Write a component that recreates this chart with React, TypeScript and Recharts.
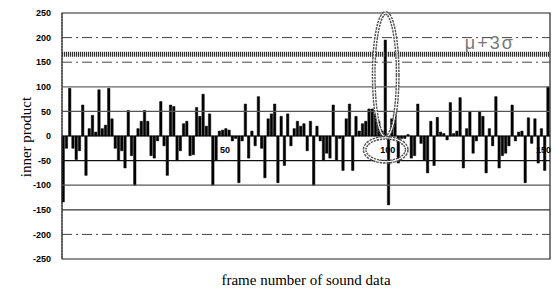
import React from 'react';
import { BarChart, Bar, XAxis, YAxis, ReferenceLine, ReferenceArea, ReferenceDot } from 'recharts';

const innerProducts: number[] = [
  -134, -25, 97, -25, -48, -30, 63, -80, 15, 42,
  8, 94, 15, 22, 97, 35, -25, -50, -30, -65,
  52, -40, -100, 15, 30, 52, 30, -40, -45, -10,
  70, -20, -80, 63, 60, -50, -30, 25, 30, -40,
  -38, 58, 40, 85, 20, 45, -100, -50, 10, 12,
  15, 12, -10, -5, -95, -10, 65, -45, 10, -20,
  80, -25, -85, 35, 45, 65, -95, 40, -60, 45,
  -20, 15, 30, 20, 25, -30, 30, -100, 20, -10,
  -50, -35, -45, 63, -50, -5, -70, 35, 65, -70,
  40, 10, 25, 30, 55, 55, 45, 30, 10, 195,
  -140, 35, 45, -55, -5, -5, 3, -45, -40, 65,
  -15, -50, -75, 30, -60, 38, 8, 5, -8, 68,
  5, 10, 78, -65, 15, 50, -35, -10, 50, 40,
  -75, 15, -20, 80, -65, -40, -35, -20, 63, -10,
  8, 10, -95, 37, -15, 35, -55, 15, -70, 100,
];

const yTicks = [-250, -200, -150, -100, -50, 0, 50, 100, 150, 200, 250];
const frameLabels = [50, 100, 150];
const threshold = 166;
const thresholdLabel = 'μ+3σ';
const thresholdLabelFrame = 132;
const dashedLevels = [200, 150, -200];
const solidLevels: { y: number; color: string }[] = [
  { y: 100, color: '#666' },
  { y: 50, color: '#555' },
  { y: -50, color: '#111' },
  { y: -100, color: '#555' },
  { y: -150, color: '#333' },
];
const peakFrame = 100;
const tallEllipseCenter = 124;
const smallEllipseCenter = -28;

const data = innerProducts.map((v, i) => ({ frame: i + 1, value: v }));

const chainEllipse = (rx: number, ry: number) => (props: any) => {
  const { cx, cy } = props;
  if (cx == null || cy == null) return <g />;
  return (
    <g>
      <ellipse cx={cx} cy={cy} rx={rx} ry={ry} fill="none" stroke="#555" strokeWidth={4} strokeDasharray="2.4 0.9" />
      <ellipse cx={cx} cy={cy} rx={rx} ry={ry} fill="none" stroke="#fff" strokeWidth={1.1} />
    </g>
  );
};

const FrameLabel = (props: any) => {
  const { viewBox, value, isLast } = props;
  if (!viewBox) return null;
  const x = viewBox.x + (isLast ? 4 : 2);
  return (
    <text
      x={isLast ? Math.min(x, 551) : x}
      y={viewBox.y + 17}
      textAnchor={isLast ? 'end' : 'middle'}
      fontSize={9}
      fontWeight="bold"
      fill="#000"
      fontFamily="Liberation Sans, Arial, sans-serif"
    >
      {value}
    </text>
  );
};

export default function App() {
  return (
    <div style={{ position: 'absolute', left: 0, top: 0, width: 553, height: 290, background: '#fff' }}>
      <BarChart
        width={553}
        height={290}
        data={data}
        margin={{ top: 13, right: 3, bottom: 31, left: 0 }}
        barCategoryGap="10%"
      >
        <XAxis dataKey="frame" hide />
        <YAxis
          domain={[-250, 250]}
          ticks={yTicks}
          type="number"
          width={62}
          tickLine={false}
          tickSize={6}
          tickMargin={5}
          axisLine={{ stroke: '#444', strokeDasharray: '2 1' }}
          tick={{ fontSize: 9, fontWeight: 'bold', fill: '#000', fontFamily: 'Liberation Sans, Arial, sans-serif' }}
          interval={0}
        />
        {dashedLevels.map((y) => (
          <ReferenceLine key={'d' + y} y={y} stroke="#444" strokeWidth={1} strokeDasharray="10 4 2 4" />
        ))}
        {solidLevels.map((l) => (
          <ReferenceLine key={'s' + l.y} y={l.y} stroke={l.color} strokeWidth={1.3} />
        ))}
        <ReferenceLine y={0} stroke="#000" strokeWidth={1} />
        <ReferenceLine y={threshold} stroke="#333" strokeWidth={5} strokeDasharray="1.2 0.8" />
        <ReferenceArea y1={-250} y2={250} fill="none" stroke="#222" strokeWidth={1.2} />
        <Bar dataKey="value" fill="#000" stroke="#000" strokeWidth={0.5} barSize={2.4} isAnimationActive={false} />
        {frameLabels.map((f, i) => (
          <ReferenceDot
            key={'f' + f}
            x={f}
            y={0}
            r={0}
            fill="none"
            stroke="none"
            label={<FrameLabel value={String(f)} isLast={i === frameLabels.length - 1} />}
          />
        ))}
        <ReferenceDot
          x={thresholdLabelFrame}
          y={threshold}
          r={0}
          fill="none"
          stroke="none"
          label={{ value: thresholdLabel, position: 'top', offset: 5, fontSize: 18, letterSpacing: 2, fill: '#777', fontFamily: 'Liberation Sans, Arial, sans-serif' }}
        />
        <ReferenceDot x={peakFrame} y={tallEllipseCenter} r={1} shape={chainEllipse(12, 62)} />
        <ReferenceDot x={peakFrame} y={smallEllipseCenter} r={1} shape={chainEllipse(21, 12)} />
      </BarChart>
      <div
        style={{
          position: 'absolute',
          left: 62,
          width: 488,
          top: 272,
          textAlign: 'center',
          fontFamily: 'Liberation Serif, Times New Roman, serif',
          fontSize: 15,
          lineHeight: '16px',
          color: '#000',
        }}
      >
        frame number of sound data
      </div>
      <div
        style={{
          position: 'absolute',
          left: 26,
          top: 137,
          width: 0,
          height: 0,
        }}
      >
        <div
          style={{
            position: 'absolute',
            left: -80,
            top: -9,
            width: 160,
            textAlign: 'center',
            transform: 'rotate(-90deg)',
            fontFamily: 'Liberation Serif, Times New Roman, serif',
            fontSize: 15,
            lineHeight: '18px',
            color: '#000',
            whiteSpace: 'nowrap',
          }}
        >
          inner product
        </div>
      </div>
    </div>
  );
}
